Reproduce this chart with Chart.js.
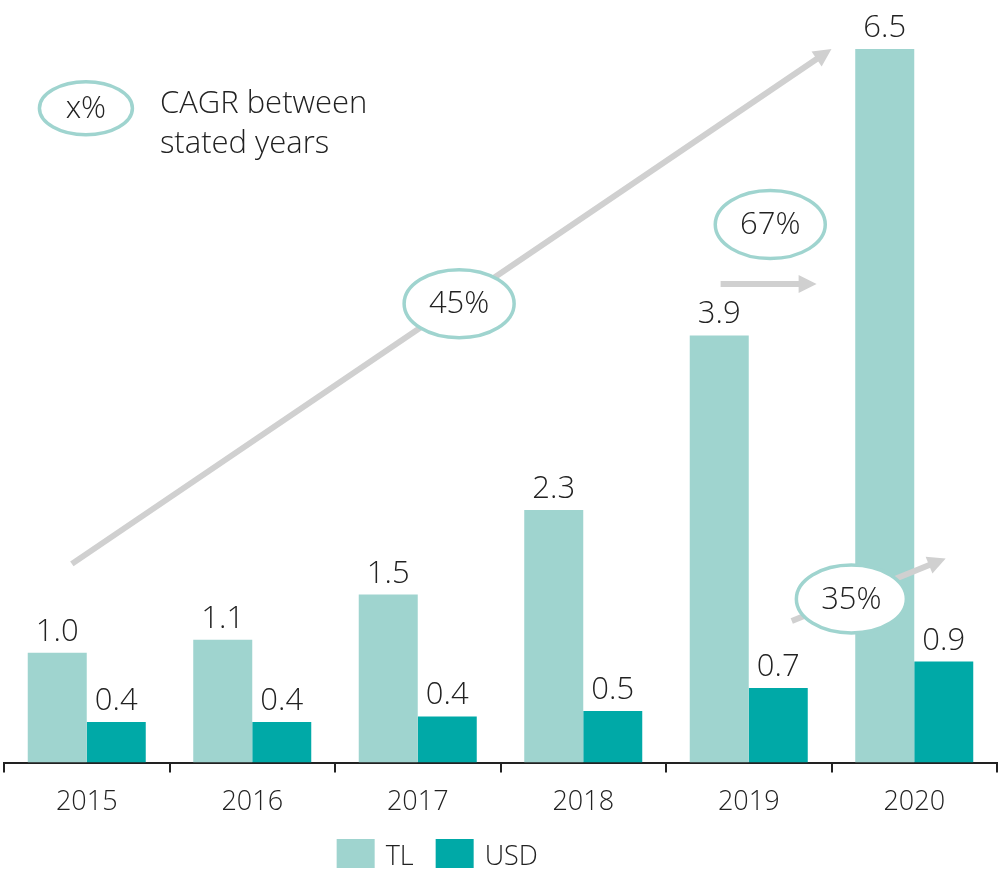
<!DOCTYPE html>
<html>
<head>
<meta charset="utf-8">
<script src="https://cdn.jsdelivr.net/npm/chart.js@4"></script>
<style>
  html, body { margin: 0; padding: 0; background: #fff; }
  #wrap { width: 1002px; height: 872px; }
</style>
</head>
<body>
<div id="wrap"><canvas id="cagrChart"></canvas></div>
<script>
const years = ['2015', '2016', '2017', '2018', '2019', '2020'];
const tlValues = [1.0, 1.12, 1.53, 2.30, 3.89, 6.5];
const usdValues = [0.37, 0.37, 0.42, 0.47, 0.68, 0.92];
const seriesNames = ['TL', 'USD'];
const seriesColors = ['#9fd4cf', '#00a9a7'];

// CAGR callouts, positions given as [category index, value]
const cagrLabels = ['45%', '67%', '35%'];
const cagrFrom = [[-0.09, 1.81], [3.83, 4.36], [4.26, 1.29]];
const cagrTo = [[4.5, 6.5], [4.41, 4.36], [5.19, 1.86]];
const cagrBubble = [[2.25, 4.18], [4.13, 4.90], [4.62, 1.49]];
const keyBubble = [-0.005, 5.96];
const keyText = ['CAGR between', 'stated years'];

const FONT = '"Open Sans", "DejaVu Sans", sans-serif';
const TEXT = '#222222';
const RING = '#9fd4cf';
const ARROW = '#d0d0d0';

function ellipse(ctx, cx, cy, w, h, label) {
  ctx.beginPath();
  ctx.ellipse(cx, cy, w / 2, h / 2, 0, 0, Math.PI * 2);
  ctx.fillStyle = '#fff';
  ctx.fill();
  ctx.lineWidth = 3.5;
  ctx.strokeStyle = RING;
  ctx.stroke();
  ctx.fillStyle = TEXT;
  ctx.textAlign = 'center';
  ctx.textBaseline = 'middle';
  ctx.fillText(label, cx, cy + 1);
}

function arrow(ctx, x0, y0, x1, y1) {
  const ang = Math.atan2(y1 - y0, x1 - x0);
  const head = 18, half = 9;
  const bx = x1 - head * Math.cos(ang), by = y1 - head * Math.sin(ang);
  ctx.strokeStyle = ARROW;
  ctx.fillStyle = ARROW;
  ctx.lineWidth = 6;
  ctx.beginPath();
  ctx.moveTo(x0, y0);
  ctx.lineTo(bx + Math.cos(ang), by + Math.sin(ang));
  ctx.stroke();
  ctx.beginPath();
  ctx.moveTo(x1, y1);
  ctx.lineTo(bx + half * Math.sin(ang), by - half * Math.cos(ang));
  ctx.lineTo(bx - half * Math.sin(ang), by + half * Math.cos(ang));
  ctx.closePath();
  ctx.fill();
}

const calloutPlugin = {
  id: 'callouts',
  afterDatasetsDraw(chart) {
    const { ctx, scales: { x, y } } = chart;
    ctx.save();
    ctx.font = '300 31px ' + FONT;

    // value labels above the bars
    chart.data.datasets.forEach((ds, i) => {
      chart.getDatasetMeta(i).data.forEach((bar, j) => {
        ctx.fillStyle = TEXT;
        ctx.textAlign = 'center';
        ctx.textBaseline = 'alphabetic';
        ctx.fillText(ds.data[j].toFixed(1), bar.x, bar.y - 12);
      });
    });

    // CAGR arrows and bubbles
    cagrLabels.forEach((lbl, i) => {
      arrow(ctx,
        x.getPixelForValue(cagrFrom[i][0]), y.getPixelForValue(cagrFrom[i][1]),
        x.getPixelForValue(cagrTo[i][0]), y.getPixelForValue(cagrTo[i][1]));
    });
    cagrLabels.forEach((lbl, i) => {
      ellipse(ctx, x.getPixelForValue(cagrBubble[i][0]), y.getPixelForValue(cagrBubble[i][1]), 110, 68, lbl);
    });

    // key in the top left corner
    const kx = x.getPixelForValue(keyBubble[0]);
    const ky = y.getPixelForValue(keyBubble[1]);
    ellipse(ctx, kx, ky, 93, 53, 'x%');
    ctx.textAlign = 'left';
    ctx.textBaseline = 'middle';
    ctx.fillText(keyText[0], kx + 74, ky - 4);
    ctx.fillText(keyText[1], kx + 74, ky + 36);

    // series legend under the axis, a bit left of centre
    ctx.font = '300 27px ' + FONT;
    ctx.textBaseline = 'middle';
    let lx = x.getPixelForValue(1.51);
    const ly = chart.height - 18.5;
    seriesNames.forEach((name, i) => {
      ctx.fillStyle = seriesColors[i];
      ctx.fillRect(lx, ly - 14.5, 38, 29);
      ctx.fillStyle = TEXT;
      ctx.fillText(name, lx + 49, ly + 4);
      lx += 49 + ctx.measureText(name).width + 22;
    });
    ctx.restore();
  }
};

new Chart(document.getElementById('cagrChart'), {
  type: 'bar',
  data: {
    labels: years,
    datasets: seriesNames.map((name, i) => ({
      label: name,
      data: i === 0 ? tlValues : usdValues,
      backgroundColor: seriesColors[i],
      borderWidth: 0
    }))
  },
  options: {
    responsive: true,
    maintainAspectRatio: false,
    animation: false,
    datasets: { bar: { barPercentage: 1, categoryPercentage: 0.713 } },
    layout: { padding: { top: 5, left: 4, right: 5, bottom: 39 } },
    plugins: {
      tooltip: { enabled: false },
      legend: { display: false }
    },
    scales: {
      x: {
        grid: { offset: true, drawOnChartArea: false, tickLength: 10, color: '#222', lineWidth: 2 },
        border: { display: true, color: '#222', width: 2 },
        ticks: { color: TEXT, padding: 14, font: { family: FONT, size: 27, weight: 300 } }
      },
      y: { display: false, min: 0, max: 6.9 }
    }
  },
  plugins: [calloutPlugin]
});
</script>
</body>
</html>
